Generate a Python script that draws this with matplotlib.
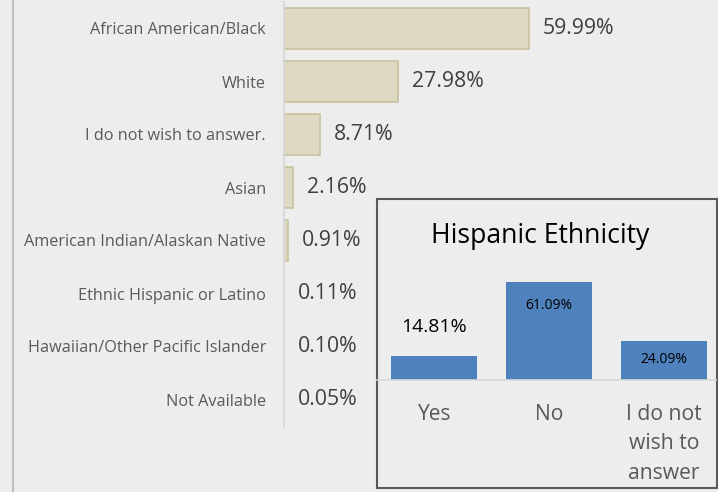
import matplotlib.pyplot as plt
from matplotlib.patches import Rectangle
from matplotlib.lines import Line2D

races = ['African American/Black', 'White', 'I do not wish to answer.', 'Asian',
         'American Indian/Alaskan Native', 'Ethnic Hispanic or Latino',
         'Hawaiian/Other Pacific Islander', 'Not Available']
race_pct = [59.99, 27.98, 8.71, 2.16, 0.91, 0.11, 0.10, 0.05]

hisp_cats = ['Yes', 'No', 'I do not\nwish to\nanswer']
hisp_pct = [14.81, 61.09, 24.09]

W, H = 718, 492
bg = '#ededed'
plt.rcParams['font.family'] = ['Open Sans', 'DejaVu Sans']

fig = plt.figure(figsize=(W / 100, H / 100), dpi=100, facecolor=bg)


def frac(x0, y0, x1, y1):
    # pixel box (top-left origin) -> figure fraction rect
    return [x0 / W, 1 - y1 / H, (x1 - x0) / W, (y1 - y0) / H]


# main horizontal bar chart
ax = fig.add_axes(frac(284, 2, 718, 426))
ax.set_facecolor('none')
pos = list(range(len(races)))
ax.barh(pos, race_pct, height=0.77, color='#ddd9c3', edgecolor='#c9c29f', linewidth=1.2)
ax.set_xlim(0, 434 / 4.08)
ax.set_ylim(len(races) - 0.5, -0.5)
ax.set_yticks(pos)
ax.set_yticklabels(races, fontsize=11.7, color='#595959')
ax.tick_params(axis='y', length=0, pad=13)
ax.set_xticks([])
for s in ['top', 'right', 'bottom']:
    ax.spines[s].set_visible(False)
ax.spines['left'].set_color('#d9d9d9')
ax.spines['left'].set_linewidth(1.5)
for i, v in enumerate(race_pct):
    ax.annotate(f'{v:.2f}%', (v, i), xytext=(10, 0), textcoords='offset points',
                va='center', ha='left', fontsize=15.3, color='#404040')

# left border line of the plot area
fig.add_artist(Line2D([13 / W, 13 / W], [0, 1], color='#bfbfbf', linewidth=1.5))

# inset box
fig.add_artist(Rectangle((377 / W, 1 - 488 / H), (717 - 377) / W, (488 - 199) / H,
                         transform=fig.transFigure, facecolor=bg, edgecolor='#595959',
                         linewidth=1.5, zorder=3))
fig.text(540 / W, 1 - 236 / H, 'Hispanic Ethnicity', ha='center', va='center',
         fontsize=19.2, color='#000000', zorder=4)

ax2 = fig.add_axes(frac(377, 250, 716, 380), zorder=5)
ax2.set_facecolor('none')
x = list(range(len(hisp_cats)))
ax2.bar(x, hisp_pct, width=0.75, color='#4f81bd')
ax2.set_xlim(-(434 - 377) / 115, 2 + (716 - 664) / 115)
ax2.set_ylim(0, 130 / 1.6)
ax2.set_yticks([])
ax2.set_xticks(x)
ax2.set_xticklabels(hisp_cats, fontsize=15.2, color='#595959', linespacing=1.55)
ax2.tick_params(axis='x', length=0, pad=17)
for s in ['top', 'right', 'left']:
    ax2.spines[s].set_visible(False)
ax2.spines['bottom'].set_color('#d9d9d9')
ax2.spines['bottom'].set_linewidth(1.2)

ax2.annotate(f'{hisp_pct[0]:.2f}%', (0, hisp_pct[0]), xytext=(0, 21), textcoords='offset points',
             ha='center', va='center', fontsize=14, color='#000000')
ax2.annotate(f'{hisp_pct[1]:.2f}%', (1, hisp_pct[1]), xytext=(0, -17), textcoords='offset points',
             ha='center', va='center', fontsize=10, color='#000000')
ax2.annotate(f'{hisp_pct[2]:.2f}%', (2, hisp_pct[2]), xytext=(0, -13), textcoords='offset points',
             ha='center', va='center', fontsize=10, color='#000000')

fig.savefig('out.png', dpi=100, facecolor=bg)
